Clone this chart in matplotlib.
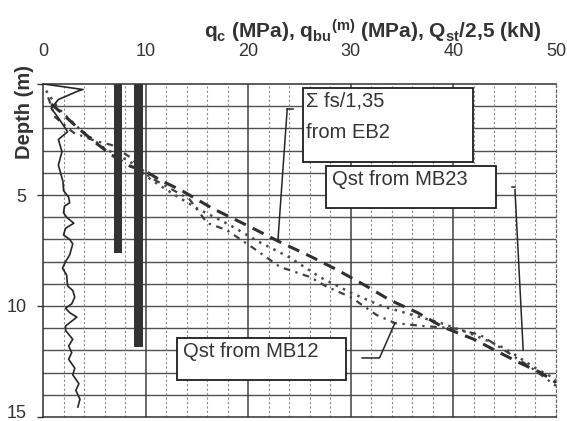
import matplotlib
matplotlib.use("Agg")
import matplotlib.pyplot as plt
from matplotlib.patches import Rectangle
from matplotlib.transforms import ScaledTranslation

plt.rcParams['font.family'] = ['Liberation Sans', 'DejaVu Sans']
plt.rcParams['mathtext.fontset'] = 'custom'
plt.rcParams['mathtext.rm'] = 'Liberation Sans'
plt.rcParams['mathtext.bf'] = 'Liberation Sans:bold'
plt.rcParams['mathtext.default'] = 'bf'

TXT = '#333333'
INK = '#262626'

# ---- data ----
qc_depth = [0.0, 0.25, 0.3, 0.7, 1.1, 1.4, 1.8, 2.15, 2.5, 3.05, 3.65, 4.4, 4.8, 5.1, 5.35, 5.5,
            5.8, 6.0, 6.27, 6.5, 6.8, 7.0, 7.2, 7.7, 8.0, 8.3, 8.6, 9.1, 9.3, 9.6, 9.9, 10.1,
            10.3, 10.5, 10.9, 11.1, 11.5, 11.8, 12.1, 12.4, 12.8, 13.1, 13.5, 13.8, 14.2, 14.55]
qc_value = [0.1, 3.9, 3.5, 1.5, 0.8, 1.3, 1.9, 2.4, 1.5, 1.85, 1.5, 1.95, 2.0, 2.5, 2.6, 2.1,
            2.0, 2.3, 3.0, 2.2, 2.0, 2.6, 2.9, 2.6, 2.2, 1.9, 2.3, 2.4, 2.9, 3.1, 2.8, 2.2,
            2.6, 3.3, 2.2, 2.2, 2.9, 2.5, 2.8, 2.5, 3.1, 2.9, 3.5, 3.2, 3.6, 3.4]

qbu_x = [7.3, 9.3]
qbu_depth = [7.6, 11.85]

mb23_x = [0.8, 1.7, 3.4, 5.0, 6.7, 8.5, 10.1, 11.5, 13.4, 16.5, 20.2, 23.1, 26.0, 28.7, 31.5,
          33.8, 36.5, 39.0, 42.0, 44.5, 46.5, 48.5, 50.0]
mb23_depth = [0.9, 1.26, 1.98, 2.6, 3.2, 3.7, 3.96, 4.35, 4.77, 5.6, 6.44, 7.12, 7.75, 8.38, 9.1,
              9.73, 10.3, 10.95, 11.5, 12.1, 12.57, 13.0, 13.45]

mb12_x = [0.5, 1.2, 3.0, 5.0, 6.7, 8.5, 10.4, 12.0, 14.3, 16.0, 17.9, 20.5, 23.1, 26.0, 27.7,
          30.0, 32.5, 34.3, 37.0, 40.0, 42.6, 45.0, 47.5, 50.0]
mb12_depth = [0.6, 1.5, 2.2, 2.55, 2.75, 3.3, 4.2, 4.6, 5.2, 6.26, 6.58, 7.39, 8.24, 8.69, 9.14,
              9.6, 10.4, 10.77, 10.9, 11.0, 11.3, 12.0, 12.75, 13.6]

eb2_x = [0.3, 1.5, 3.5, 6.0, 8.5, 10.5, 12.5, 15.0, 18.0, 21.0, 24.0, 27.0, 30.0, 33.0, 36.0,
         39.0, 42.0, 45.0, 48.0, 50.0]
eb2_depth = [0.3, 1.1, 2.0, 2.9, 3.5, 4.3, 4.9, 5.6, 6.3, 7.1, 7.8, 8.7, 9.4, 10.0, 10.4,
             10.8, 11.3, 11.9, 12.8, 13.3]

x_ticks = [0, 10, 20, 30, 40, 50]
y_ticks = [0, 5, 10, 15]
y_labels = ['', '5', '10', '15']

# ---- figure ----
W, H = 567, 421
fig = plt.figure(figsize=(W / 100, H / 100), dpi=100)
ax = fig.add_axes([43 / W, 1 - 417 / H, (556 - 43) / W, (417 - 84) / H])

ax.set_xlim(0, 50)
ax.set_ylim(15, 0)

# grid
for d in range(1, 15):
    ax.axhline(d, color='#505050', lw=1.0, zorder=1)
for xv in range(2, 50, 2):
    if xv % 10 == 0:
        ax.axvline(xv, color='#404040', lw=1.1, zorder=1)
    else:
        ax.axvline(xv, color='#8a8a8a', lw=0.8, ls=(0, (2, 2)), zorder=1)

# curves
ax.plot(eb2_x, eb2_depth, color='#4a4a4a', lw=1.8, ls=(0, (1, 2.2)), zorder=3)
ax.plot(mb12_x, mb12_depth, color='#404040', lw=1.6, ls=(0, (3, 2.5, 1, 2.5)), zorder=3)
ax.plot(mb23_x, mb23_depth, color='#303030', lw=2.2, ls=(0, (4, 2.5)), zorder=3)
ax.plot(qc_value, qc_depth, color=INK, lw=1.2, zorder=4)

# q_bu bars
ax.bar(qbu_x, qbu_depth, bottom=0, width=0.85, color='#333333', zorder=5)

# annotation boxes
def box(x0, x1, d0, d1):
    ax.add_patch(Rectangle((x0, d0), x1 - x0, d1 - d0, facecolor='white',
                           edgecolor='#1e1e1e', lw=1.3, zorder=6))

FS = 14.5
box(25.3, 41.9, 0.18, 3.51)
ax.text(25.6, 0.77, 'Σ fs/1,35', fontsize=FS, color=TXT, va='center', ha='left', zorder=7)
ax.text(25.6, 2.2, 'from EB2', fontsize=FS, color=TXT, va='center', ha='left', zorder=7)

box(27.6, 44.2, 3.69, 5.59)
ax.text(28.2, 4.32, 'Qst from MB23', fontsize=FS, color=TXT, va='center', ha='left', zorder=7)

box(13.1, 29.5, 11.44, 13.33)
ax.text(13.65, 12.07, 'Qst from MB12', fontsize=FS, color=TXT, va='center', ha='left', zorder=7)

# leader lines
ax.plot([23.8, 24.4], [1.13, 1.13], color=INK, lw=1.1, zorder=6)
ax.plot([23.8, 22.9], [1.13, 7.03], color=INK, lw=1.1, zorder=6)
ax.plot([45.7, 46.0], [4.65, 4.65], color=INK, lw=1.1, zorder=6)
ax.plot([46.0, 46.8], [4.77, 11.98], color=INK, lw=1.1, zorder=6)
ax.plot([31.1, 32.8, 34.3], [12.34, 12.34, 10.77], color=INK, lw=1.1, zorder=6)

# axes styling
ax.xaxis.tick_top()
ax.set_xticks(x_ticks)
ax.set_xticklabels([str(v) for v in x_ticks])
ax.tick_params(axis='x', length=0, pad=17, labelsize=13, labelcolor=TXT)
ax.set_yticks(y_ticks)
ax.set_yticklabels(y_labels)
ax.tick_params(axis='y', length=4, width=1.0, color='#333333', pad=8,
               labelsize=13, labelcolor=TXT)
# keep the bottom "15" label inside the canvas
last = ax.get_yticklabels()[-1]
last.set_transform(last.get_transform() + ScaledTranslation(0, 6 / 100, fig.dpi_scale_trans))

for s in ['top', 'left', 'bottom']:
    ax.spines[s].set_color('#303030')
    ax.spines[s].set_linewidth(1.1)
ax.spines['right'].set_color('#666666')
ax.spines['right'].set_linewidth(0.9)
ax.spines['right'].set_linestyle((0, (2, 2)))

fig.text(373 / W, 1 - 31 / H, r"q$_c$ (MPa), q$_{bu}$$^{(m)}$ (MPa), Q$_{st}$/2,5 (kN)",
         fontsize=15, fontweight='bold', color=TXT, ha='center', va='center')
fig.text(24 / W, 1 - 112 / H, 'Depth (m)', fontsize=14.5, fontweight='bold', color=TXT,
         rotation=90, ha='center', va='center')

fig.savefig('out.png', dpi=100, facecolor='white')
